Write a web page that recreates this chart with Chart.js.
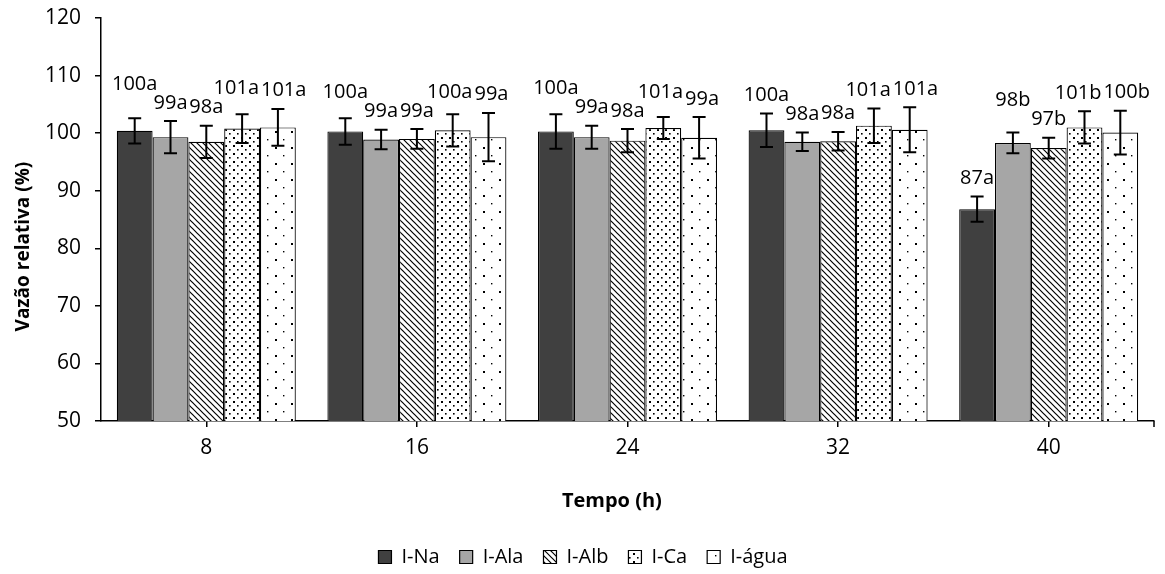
<!DOCTYPE html>
<html>
<head>
<meta charset="utf-8">
<script src="https://cdn.jsdelivr.net/npm/chart.js@4.4.1/dist/chart.umd.min.js"></script>
<style>
  html, body { margin: 0; padding: 0; background: #fff; }
  #wrap { width: 1165px; height: 574px; position: relative; }
</style>
</head>
<body>
<div id="wrap"><canvas id="c" width="1165" height="574"></canvas></div>
<script>
// ---- data ----
const categories = ['8', '16', '24', '32', '40'];
const seriesNames = ['I-Na', 'I-Ala', 'I-Alb', 'I-Ca', 'I-água'];

const naValues   = [100.4, 100.3, 100.3, 100.5, 86.8];
const alaValues  = [99.3, 98.9, 99.3, 98.5, 98.3];
const albValues  = [98.5, 99.0, 98.7, 98.6, 97.4];
const caValues   = [100.8, 100.5, 100.9, 101.3, 101.0];
const aguaValues = [101.0, 99.3, 99.2, 100.6, 100.1];

const naErr   = [2.2, 2.3, 3.0, 2.9, 2.2];
const alaErr  = [2.8, 1.7, 2.0, 1.6, 1.8];
const albErr  = [2.8, 1.7, 2.0, 1.6, 1.8];
const caErr   = [2.5, 2.8, 1.9, 3.0, 2.8];
const aguaErr = [3.2, 4.2, 3.6, 3.9, 3.8];

const naLabels   = ['100a', '100a', '100a', '100a', '87a'];
const alaLabels  = ['99a', '99a', '99a', '98a', '98b'];
const albLabels  = ['98a', '99a', '98a', '98a', '97b'];
const caLabels   = ['101a', '100a', '101a', '101a', '101b'];
const aguaLabels = ['101a', '99a', '99a', '101a', '100b'];

const yTicks = [50, 60, 70, 80, 90, 100, 110, 120];

const xTitle = 'Tempo (h)';
const yTitle = 'Vazão relativa (%)';

// ---- patterns ----
function makePattern(w, h, draw) {
  const c = document.createElement('canvas');
  c.width = w; c.height = h;
  const g = c.getContext('2d');
  g.fillStyle = '#ffffff';
  g.fillRect(0, 0, w, h);
  g.fillStyle = '#000000';
  g.strokeStyle = '#000000';
  draw(g);
  return document.getElementById('c').getContext('2d').createPattern(c, 'repeat');
}
const hatchPattern = makePattern(6, 6, g => {
  g.lineWidth = 1.2;
  g.beginPath();
  g.moveTo(-1, -1); g.lineTo(7, 7);
  g.moveTo(-7, -1); g.lineTo(1, 7);
  g.moveTo(5, -1); g.lineTo(13, 7);
  g.stroke();
});
const denseDots = makePattern(8, 8, g => {
  g.fillRect(1, 1, 2, 2);
  g.fillRect(5, 5, 1.6, 1.6);
});
const sparseDots = makePattern(16, 16, g => {
  g.fillRect(3, 3, 2, 2);
  g.fillRect(11, 11, 1.4, 1.4);
});

const FONT = "'Open Sans', 'DejaVu Sans', sans-serif";

const valueSets = [naValues, alaValues, albValues, caValues, aguaValues];
const errSets = [naErr, alaErr, albErr, caErr, aguaErr];
const labelSets = [naLabels, alaLabels, albLabels, caLabels, aguaLabels];
const fills = ['#404040', '#a6a6a6', hatchPattern, denseDots, sparseDots];

const datasets = seriesNames.map((name, i) => ({
  label: name,
  data: valueSets[i],
  backgroundColor: fills[i],
  borderColor: '#000000',
  borderWidth: 1.2,
  categoryPercentage: 0.85,
  barPercentage: 1.0
}));

// ---- error bars + labels plugin ----
const errorBarPlugin = {
  id: 'errorBars',
  afterDatasetsDraw(chart) {
    const ctx = chart.ctx;
    const y = chart.scales.y;
    const area = chart.chartArea;
    ctx.save();
    // end tick of the category axis
    ctx.strokeStyle = '#000';
    ctx.lineWidth = 1.5;
    ctx.beginPath();
    ctx.moveTo(area.right, area.bottom);
    ctx.lineTo(area.right, area.bottom + 6);
    ctx.stroke();

    ctx.lineWidth = 2;
    const placed = categories.map(() => []);
    chart.data.datasets.forEach((ds, di) => {
      const meta = chart.getDatasetMeta(di);
      meta.data.forEach((bar, i) => {
        const v = valueSets[di][i], e = errSets[di][i];
        const yt = y.getPixelForValue(v + e);
        const yb = y.getPixelForValue(v - e);
        const x = bar.x;
        ctx.beginPath();
        ctx.moveTo(x, yt); ctx.lineTo(x, yb);
        ctx.moveTo(x - 6.5, yt); ctx.lineTo(x + 6.5, yt);
        ctx.moveTo(x - 6.5, yb); ctx.lineTo(x + 6.5, yb);
        ctx.stroke();
        placed[i].push({ text: labelSets[di][i], x: x, bottom: yt - 12.5, raised: false });
      });
    });
    // data labels with simple collision avoidance
    ctx.font = '20px ' + FONT;
    ctx.fillStyle = '#000';
    ctx.textAlign = 'center';
    ctx.textBaseline = 'alphabetic';
    const H = 15;
    placed.forEach(group => {
      group.forEach(l => { l.w = ctx.measureText(l.text).width; });
      for (let iter = 0; iter < 12; iter++) {
        let moved = false;
        for (let a = 0; a < group.length - 1; a++) {
          const A = group[a], B = group[a + 1];
          const hOver = (A.w + B.w) / 2 + 2 - Math.abs(A.x - B.x);
          const vOver = H + 3 - Math.abs(A.bottom - B.bottom);
          if (hOver > 0.5 && vOver > 0.5) {
            const hi = A.bottom <= B.bottom ? A : B;
            const lo = hi === A ? B : A;
            if (hOver <= 8 && !hi.raised) {
              hi.bottom = lo.bottom - H - 4;
              hi.raised = true;
            } else {
              A.x -= hOver / 2; B.x += hOver / 2;
            }
            moved = true;
          }
        }
        if (!moved) break;
      }
      group.forEach(l => ctx.fillText(l.text, l.x, l.bottom));
    });
    ctx.restore();
  }
};

new Chart(document.getElementById('c'), {
  type: 'bar',
  data: { labels: categories, datasets: datasets },
  options: {
    responsive: false,
    animation: false,
    events: [],
    layout: { padding: { top: 1, right: 11, left: 12, bottom: -3 } },
    plugins: {
      legend: {
        position: 'bottom',
        labels: {
          boxWidth: 13, boxHeight: 13,
          color: '#000',
          font: { family: FONT, size: 20 },
          padding: 20
        }
      },
      tooltip: { enabled: false }
    },
    scales: {
      x: {
        grid: { display: true, drawOnChartArea: false, offset: false, tickLength: 6, color: '#000', lineWidth: 1.5 },
        border: { display: true, color: '#000', width: 1.5 },
        ticks: { color: '#000', font: { family: FONT, size: 21 }, padding: 8 },
        title: { display: true, text: xTitle + '      ', color: '#000', font: { family: FONT, size: 20, weight: 'bold' }, padding: { top: 0, bottom: 14 } },
        afterFit(scale) { scale.height = 106; }
      },
      y: {
        min: 50, max: 120,
        afterBuildTicks(scale) { scale.ticks = yTicks.map(v => ({ value: v })); },
        grid: { display: true, drawOnChartArea: false, tickLength: 6, color: '#000', lineWidth: 1.5 },
        border: { display: true, color: '#000', width: 1.5 },
        ticks: { color: '#000', font: { family: FONT, size: 21 }, padding: 14 },
        title: { display: true, text: yTitle + '           ', color: '#000', font: { family: FONT, size: 19, weight: 'bold' }, padding: { top: 0, bottom: 0 } },
        afterFit(scale) {
          scale.width = 89;
          scale.paddingTop = 18;
          scale.paddingBottom = 12;
        }
      }
    }
  },
  plugins: [errorBarPlugin]
});
</script>
</body>
</html>
